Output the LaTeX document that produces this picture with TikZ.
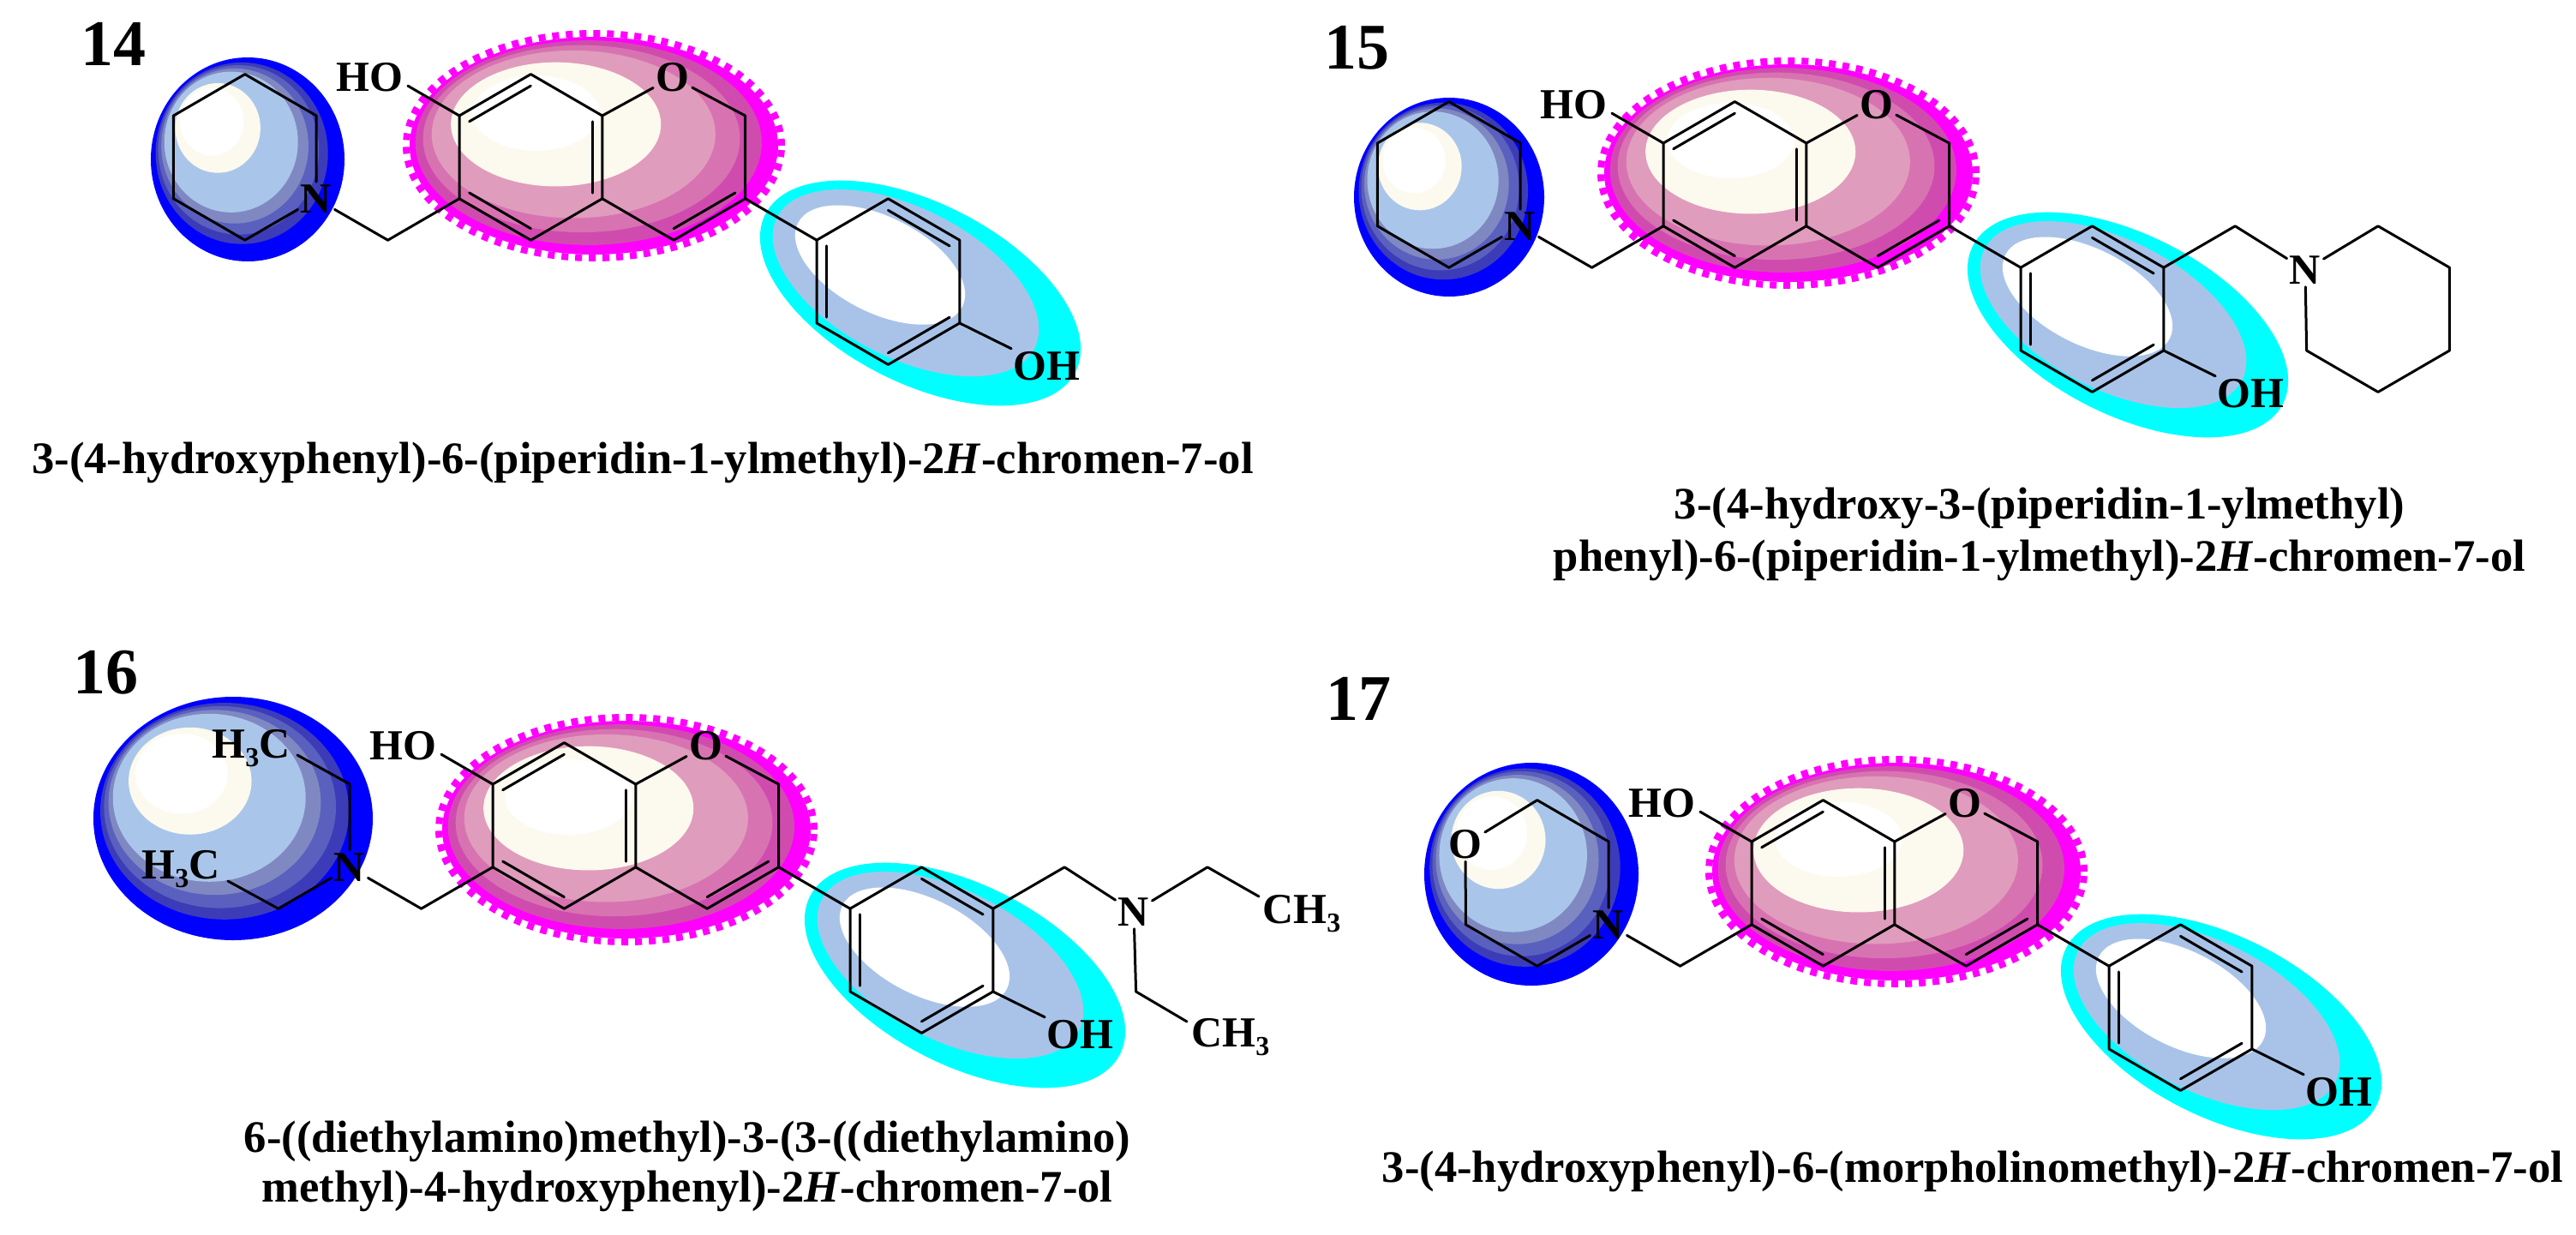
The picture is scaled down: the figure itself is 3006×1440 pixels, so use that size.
\documentclass[tikz,border=0pt]{standalone}
\usepackage{fontspec}
\setmainfont{Liberation Serif}
\usetikzlibrary{calc}
\definecolor{blueA}{HTML}{0000FF}
\definecolor{blueB}{HTML}{3C3CB8}
\definecolor{blueC}{HTML}{5A60BE}
\definecolor{blueD}{HTML}{8088C2}
\definecolor{blueE}{HTML}{A9C6EA}
\definecolor{creamB}{HTML}{FCF9EE}
\definecolor{pinkA}{HTML}{FF00FF}
\definecolor{pinkB}{HTML}{CF4CAE}
\definecolor{pinkC}{HTML}{D873B2}
\definecolor{pinkD}{HTML}{E09CBC}
\definecolor{cyanA}{HTML}{00FFFF}
\definecolor{cyanB}{HTML}{A9C3E8}
\newcommand\subn[1]{\raisebox{-5pt}{\fontsize{16}{16}\selectfont #1}}
\tikzset{
  bond/.style={draw=black,line width=1.5pt,line join=round,line cap=round},
  atomlab/.style={inner sep=1.5pt,font=\fontsize{25}{25}\bfseries\selectfont,text=black},
  numlab/.style={inner sep=0pt,font=\fontsize{38}{38}\bfseries\selectfont,text=black},
  namelab/.style={inner sep=0pt,align=center,font=\fontsize{26.3}{30.5}\bfseries\selectfont,text=black},
  teeth/.style={draw=pinkA,line width=4pt,dash pattern=on 4pt off 4pt}
}
% ball{cx}{cy}{rx}{ry}{tilt}{focus dx}{focus dy}{bands}
\newcommand\ball[8]{%
  \foreach \bt/\bandcol in {#8}{%
    \pgfmathsetmacro\bX{#1+(1-\bt)*(#6)}%
    \pgfmathsetmacro\bY{#2+(1-\bt)*(#7)}%
    \pgfmathsetmacro\bA{\bt*#3*0.5}%
    \pgfmathsetmacro\bB{\bt*#4*0.5}%
    \fill[\bandcol,shift={(\bX,\bY)},rotate=-#5] (0,0) ellipse [x radius=\bA pt,y radius=\bB pt];
  }%
}
\newcommand\blueball[4]{\ball{#1}{#2}{#3}{#4}{0}{-0.55*#3}{-0.55*#4}{1/blueA,0.89/blueB,0.83/blueC,0.76/blueD,0.69/blueE,0.44/creamB,0.33/white}}
\newcommand\pinkball[2]{%
  \draw[teeth] (#1,#2) ellipse [x radius=109.5pt,y radius=65.5pt];
  \ball{#1}{#2}{215}{127}{0}{-103}{-58}{1/pinkA,0.94/pinkB,0.86/pinkC,0.77/pinkD,0.57/creamB,0.345/white}}
\newcommand\cyanball[2]{\ball{#1}{#2}{203}{105}{27}{-100}{-70}{1/cyanA,0.83/cyanB,0.53/white}}
\def\La{83.4}\def\Lb{48.4}
% atom{name}{col}{row}
\newcommand\atom[3]{\coordinate (\Pf#1) at (\Ox+#2*\La,\Oy+#3*\Lb);}
\newcommand\dbl[3]{\draw[bond] ($(\Pf#1)!0.14!(\Pf#3)$) -- ($(\Pf#2)!0.14!(\Pf#3)$);}
% core skeleton: prefix, x, y of C7
\newcommand\core[3]{%
  \def\Pf{#1}\def\Ox{#2}\def\Oy{#3}%
  \atom{C7}{0}{0}\atom{C8}{1}{-1}\atom{C8a}{2}{0}\atom{C4a}{2}{2}\atom{C5}{1}{3}\atom{C6}{0}{2}%
  \atom{C2}{4}{0}\atom{C3}{4}{2}\atom{C4}{3}{3}\atom{CH}{-1}{3}%
  \atom{P1}{5}{3}\atom{P2}{6}{2}\atom{P3}{7}{3}\atom{P4}{7}{5}\atom{P5}{6}{6}\atom{P6}{5}{5}%
  \atom{RA}{1}{1}\atom{RB}{3}{1}\atom{RP}{6}{4}%
  \atom{HOb}{-0.72}{-0.72}%
  \node[atomlab] (#1HO) at (\Ox-105,\Oy-45) {HO};
  \node[atomlab] (#1O) at (\Ox+249,\Oy-45) {O};
  \node[atomlab] (#1OH) at (\Ox+685,\Oy+292) {OH};
  \node[atomlab] (#1N) at (\Ox-167,\Oy+97) {N};
  \draw[bond] (#1C7)--(#1C8)--(#1C8a)--(#1C4a)--(#1C5)--(#1C6)--cycle;
  \draw[bond] (#1C8a)--(#1O)--(#1C2)--(#1C3)--(#1C4)--(#1C4a);
  \draw[bond] (#1C7)--(#1HOb);
  \draw[bond] (#1C6)--(#1CH)--(#1N);
  \draw[bond] (#1C3)--(#1P1);
  \draw[bond] (#1P1)--(#1P2)--(#1P3)--(#1P4)--(#1P5)--(#1P6)--cycle;
  \draw[bond] (#1P4)--(#1OH);
  \dbl{C7}{C8}{RA}\dbl{C5}{C6}{RA}\dbl{C8a}{C4a}{RA}\dbl{C3}{C4}{RB}%
  \dbl{P1}{P6}{RP}\dbl{P2}{P3}{RP}\dbl{P4}{P5}{RP}%
}
\begin{document}
\begin{tikzpicture}[x=0.5pt,y=-0.5pt]
\useasboundingbox (0,0) rectangle (3006,1440);
% compound 14
\blueball{289}{186}{113}{119}
\pinkball{693}{170}
\cyanball{1074}{342}
\core{a}{536}{135}
\atom{L1}{-2}{0}\atom{L2}{-3}{-1}\atom{L3}{-4}{0}\atom{L4}{-4}{2}\atom{L5}{-3}{3}
\draw[bond] (aN)--(aL1)--(aL2)--(aL3)--(aL4)--(aL5)--(aN);
\node[numlab] (n14) at (132,51) {14};
\node[namelab] (t14) at (750,540) {3-(4-hydroxyphenyl)-6-(piperidin-1-ylmethyl)-2\textit{H}-chromen-7-ol};
% compound 15
\blueball{1691}{230}{111}{116}
\pinkball{2087}{202}
\cyanball{2483}{379}
\core{b}{1941}{167}
\atom{L1}{-2}{0}\atom{L2}{-3}{-1}\atom{L3}{-4}{0}\atom{L4}{-4}{2}\atom{L5}{-3}{3}
\draw[bond] (bN)--(bL1)--(bL2)--(bL3)--(bL4)--(bL5)--(bN);
\atom{R1}{8}{2}\atom{R3}{10}{2}\atom{R4}{11}{3}\atom{R5}{11}{5}\atom{R6}{10}{6}\atom{R7}{9}{5}
\node[atomlab] (bN2) at (2690,315) {N};
\draw[bond] (bP3)--(bR1)--(bN2)--(bR3)--(bR4)--(bR5)--(bR6)--(bR7)--(bN2);
\node[numlab] (n15) at (1583,56) {15};
\node[namelab] (t15) at (2380,623) {3-(4-hydroxy-3-(piperidin-1-ylmethyl)\\phenyl)-6-(piperidin-1-ylmethyl)-2\textit{H}-chromen-7-ol};
% compound 16
\blueball{272}{955}{163}{142}
\pinkball{731}{968}
\cyanball{1126}{1138}
\core{c}{575}{915}
\atom{L1}{-2}{0}\atom{L5}{-3}{3}
\node[atomlab] (cHa) at (293,873) {H\subn{3}C};
\node[atomlab] (cHb) at (211,1014) {H\subn{3}C};
\coordinate (cLa) at (347,881);
\coordinate (cLb) at (266,1028);
\draw[bond] (cN)--(cL1)--(cLa);
\draw[bond] (cN)--(cL5)--(cLb);
\atom{R1}{8}{2}\atom{R3}{10}{2}\atom{R7}{9}{5}\atom{R6}{10}{6}
\node[atomlab] (cN2) at (1323,1064) {N};
\node[atomlab,anchor=west] (cMa) at (1470,1066) {CH\subn{3}};
\node[atomlab,anchor=west] (cMb) at (1387,1210) {CH\subn{3}};
\coordinate (cMae) at (1469,1046);
\coordinate (cMbe) at (1385,1192);
\draw[bond] (cP3)--(cR1)--(cN2)--(cR3)--(cMae);
\draw[bond] (cN2)--(cR7)--(cMbe);
\node[numlab] (n16) at (123,785) {16};
\node[namelab] (t16) at (802,1361) {6-((diethylamino)methyl)-3-(3-((diethylamino)\\[-1.5pt]methyl)-4-hydroxyphenyl)-2\textit{H}-chromen-7-ol};
% compound 17
\blueball{1787}{1020}{125}{130}
\pinkball{2213}{1017}
\cyanball{2592}{1198}
\core{d}{2044}{982}
\atom{L1}{-2}{0}\atom{L2}{-3}{-1}\atom{L4}{-4}{2}\atom{L5}{-3}{3}
\node[atomlab] (dO2) at (1710,985) {O};
\draw[bond] (dN)--(dL1)--(dL2)--(dO2)--(dL4)--(dL5)--(dN);
\node[numlab] (n17) at (1585,815) {17};
\node[namelab] (t17) at (2302,1367) {3-(4-hydroxyphenyl)-6-(morpholinomethyl)-2\textit{H}-chromen-7-ol};
\end{tikzpicture}
\end{document}
